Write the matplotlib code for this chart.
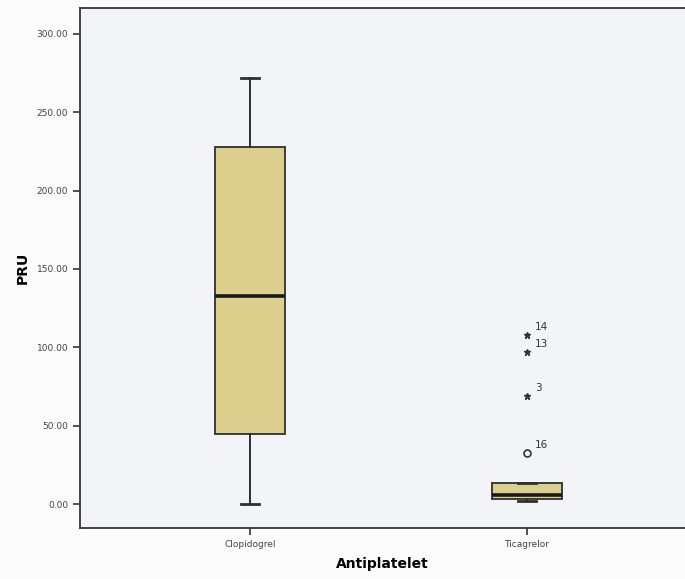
import matplotlib

matplotlib.use("Agg")

import matplotlib.pyplot as plt  # noqa: E402

# box summary values
groups = ["Clopidogrel", "Ticagrelor"]
whisker_low = [0.0, 1.9]
q1 = [44.6, 3.2]
median = [133.0, 5.7]
q3 = [228.0, 13.4]
whisker_high = [272.0, 13.4]

# Ticagrelor outliers: case ids, values, kind
outlier_ids = ["14", "13", "3", "16"]
outlier_vals = [107.6, 96.8, 68.8, 32.5]
outlier_extreme = [True, True, True, False]

yticks = [0, 50, 100, 150, 200, 250, 300]

BOX_COLOR = "#dccf8e"
EDGE = "#2f2f2f"
PANEL = "#f2f4f7"

fig = plt.figure(figsize=(6.85, 5.79), dpi=100)
fig.patch.set_facecolor("#fbfbfb")
ax = fig.add_axes([80 / 685, 1 - 528 / 579, 1 - 80 / 685, 520 / 579])
ax.set_facecolor(PANEL)

stats = [
    dict(med=median[i], q1=q1[i], q3=q3[i], whislo=whisker_low[i],
         whishi=whisker_high[i], fliers=[], label=groups[i])
    for i in range(len(groups))
]
ax.bxp(
    stats, positions=[1, 2], widths=0.253, patch_artist=True,
    boxprops=dict(facecolor=BOX_COLOR, edgecolor=EDGE, linewidth=1.3),
    medianprops=dict(color="#1a1a1a", linewidth=2.6),
    whiskerprops=dict(color=EDGE, linewidth=1.4),
    capprops=dict(color=EDGE, linewidth=2.0),
    capwidths=0.064,
)

for oid, val, extreme in zip(outlier_ids, outlier_vals, outlier_extreme):
    if extreme:
        ax.plot(2, val, marker="*", color="#333333", markersize=5, linestyle="none")
    else:
        ax.plot(2, val, marker="o", markerfacecolor="none", markeredgecolor="#333333",
                markersize=5, markeredgewidth=1.2, linestyle="none")
    ax.annotate(oid, (2, val), xytext=(6, 4), textcoords="offset points",
                fontsize=7.5, color="#333333")

ax.set_xlim(0.386, 2.571)
ax.set_ylim(-15.3, 316.5)
ax.set_yticks(yticks)
ax.set_yticklabels([f"{v:.2f}" for v in yticks])
ax.set_xticks([1, 2])
ax.set_xticklabels(groups)
ax.tick_params(axis="both", direction="out", length=5, width=1.2, color="#333333",
               labelsize=6.5, labelcolor="#444444")

ax.spines["right"].set_visible(False)
for side in ["left", "bottom", "top"]:
    ax.spines[side].set_color("#333344")
    ax.spines[side].set_linewidth(1.3)

ax.set_ylabel("PRU", fontsize=10, fontweight="bold", labelpad=5)
ax.set_xlabel("Antiplatelet", fontsize=10, fontweight="bold", labelpad=6)

fig.savefig("out.png", dpi=100, facecolor=fig.get_facecolor())
